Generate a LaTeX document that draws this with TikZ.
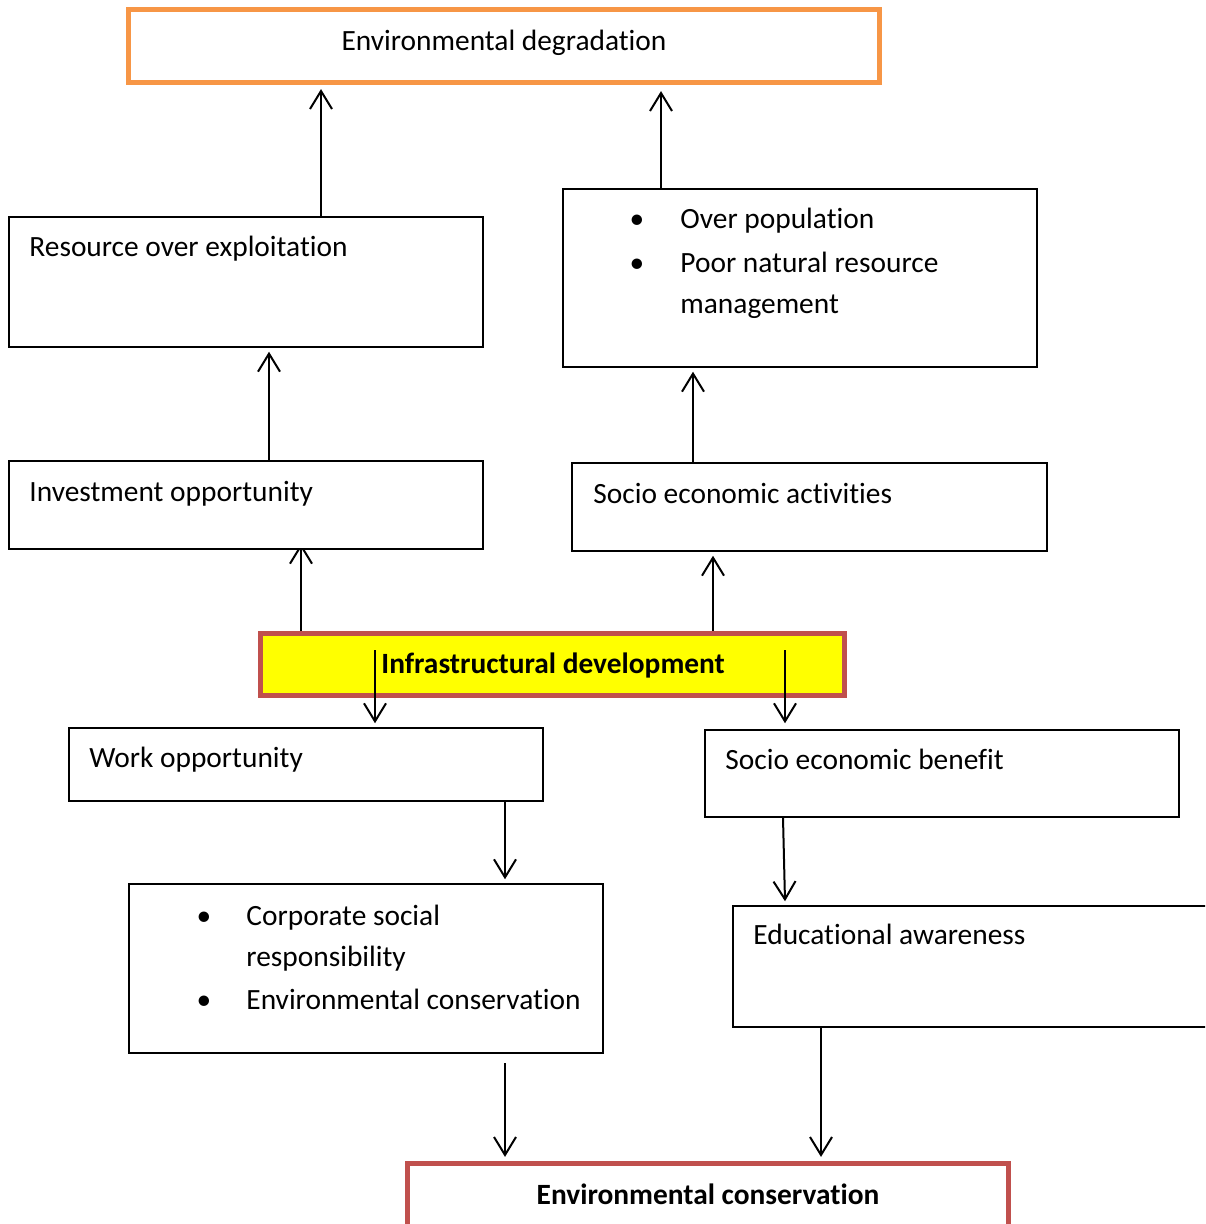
\documentclass[tikz,border=0pt]{standalone}
\usepackage{fontspec}
\setmainfont{Carlito}[Ligatures={NoCommon,NoRequired,NoContextual},RawFeature={-dlig;-calt;-ccmp;-rlig}]
\usetikzlibrary{arrows.meta,fit,backgrounds}
\definecolor{orng}{HTML}{F79646}
\definecolor{redb}{HTML}{C0504D}
\definecolor{yel}{RGB}{255,255,0}
\begin{document}
\begin{tikzpicture}[x=0.5pt,y=-0.5pt,
  box/.style={draw=black,fill=white,line width=0.75pt,inner sep=0pt,rectangle},
  orangebox/.style={draw=orng,line width=2.6pt,inner sep=0pt,rectangle},
  redbox/.style={draw=redb,line width=2.6pt,inner sep=0pt,rectangle},
  txt/.style={anchor=base west,inner sep=0pt,font=\fontsize{14.7}{17}\selectfont},
  btxt/.style={inner sep=0pt,font=\fontsize{14.7}{17}\selectfont\bfseries},
  arr/.style={-{Straight Barb[length=9pt,width=11pt]},line width=1pt}]
\useasboundingbox (0,0) rectangle (1205,1224);
\clip (0,0) rectangle (1205,1224);
% boxes
\node[orangebox,fit={(128.5,9.5) (879.5,82.5)}] (envdeg) {};
\node[box,fit={(9,217) (483,347)}] (res) {};
\node[box,fit={(563,189) (1037,367)}] (pop) {};
\node[box,fit={(9,461) (483,549)}] (inv) {};
\node[box,fit={(572,463) (1047,551)}] (socact) {};
\node[redbox,fill=yel,fit={(260.5,633.5) (844.5,695.5)}] (infra) {};
\node[box,fit={(69,728) (543,801)}] (work) {};
\node[box,fit={(705,730) (1179,817)}] (socben) {};
\node[box,fit={(129,884) (603,1053)}] (csr) {};
\node[box,fit={(733,906) (1230,1027)}] (edu) {};
\node[redbox,fit={(407.5,1163.5) (1008.5,1250)}] (envcon) {};
% texts
\node[txt,anchor=base] (t1) at (504,51) {Environmental degradation};
\node[txt] (t2) at (29,257) {Resource over exploitation};
\node[txt,anchor=base] (b1) at (637,229) {•};
\node[txt] (t3) at (680,229) {Over population};
\node[txt,anchor=base] (b2) at (637,273) {•};
\node[txt] (t4) at (680,273) {Poor natural resource};
\node[txt] (t5) at (680,314) {management};
\node[txt] (t6) at (29,501) {Investment opportunity};
\node[txt] (t7) at (593,503) {Socio economic activities};
\node[btxt,anchor=base west] (t8) at (381,673) {Infrastructural development};
\node[txt] (t9) at (89,767) {Work opportunity};
\node[txt] (t10) at (725,769) {Socio economic benefit};
\node[txt,anchor=base] (b3) at (204,925) {•};
\node[txt] (t11) at (246,925) {Corporate social};
\node[txt] (t12) at (246,966) {responsibility};
\node[txt,anchor=base] (b4) at (204,1009) {•};
\node[txt] (t13) at (246,1009) {Environmental conservation};
\node[txt] (t14) at (753,944) {Educational awareness};
\node[btxt,anchor=base] (t15) at (708,1204) {Environmental conservation};
% arrow columns
\coordinate (c1) at (321,0);
\coordinate (c2) at (661,0);
\coordinate (c3) at (269,0);
\coordinate (c4) at (693,0);
\coordinate (c5) at (301,0);
\coordinate (c6) at (713,0);
\coordinate (c7) at (375,650);
\coordinate (c8) at (785,650);
\coordinate (c9) at (505,0);
\coordinate (c10) at (783,0);
\coordinate (c11) at (785,0);
\coordinate (c12) at (505,1063);
\coordinate (c13) at (821,0);
% connectors
\draw[arr] (res.north -| c1) -- ([yshift=-2pt]envdeg.south -| c1);
\draw[arr] (pop.north -| c2) -- ([yshift=-3pt]envdeg.south -| c2);
\draw[arr] (inv.north -| c3) -- ([yshift=-2pt]res.south -| c3);
\draw[arr] (socact.north -| c4) -- ([yshift=-2pt]pop.south -| c4);
\begin{scope}[on background layer]
\draw[arr] (infra.north -| c5) -- ([yshift=3pt]inv.south -| c5);
\end{scope}
\draw[arr] (infra.north -| c6) -- ([yshift=-2pt]socact.south -| c6);
\draw[arr] (c7) -- ([yshift=2pt]work.north -| c7);
\draw[arr] (c8) -- ([yshift=3pt]socben.north -| c8);
\draw[arr] (work.south -| c9) -- ([yshift=2pt]csr.north -| c9);
\draw[arr] (socben.south -| c10) -- ([yshift=2pt]edu.north -| c11);
\draw[arr] (c12) -- ([yshift=2pt]envcon.north -| c12);
\draw[arr] (edu.south -| c13) -- ([yshift=2pt]envcon.north -| c13);
\end{tikzpicture}
\end{document}
